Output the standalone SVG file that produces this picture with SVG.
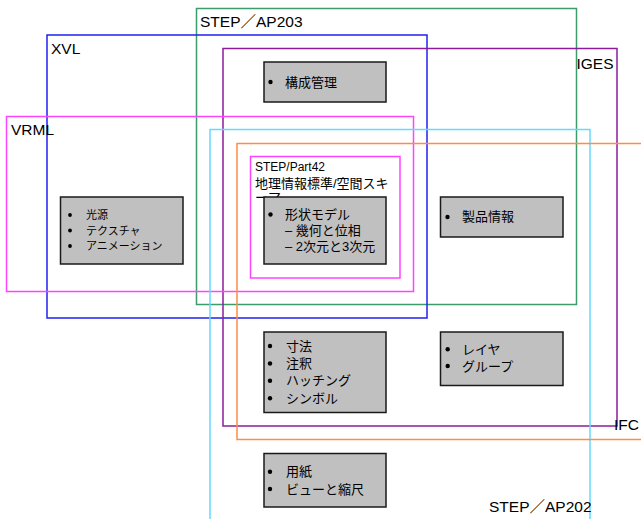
<svg xmlns="http://www.w3.org/2000/svg" width="641" height="519" viewBox="0 0 641 519">
<style>
.frame{fill:none;stroke-width:1.5}
.lbl{font-family:"Liberation Sans","Noto Sans CJK JP",sans-serif;font-size:15.5px;fill:#000}
.box{fill:#c0c0c0;stroke:#1a1a1a;stroke-width:1.5}
.t{font-family:"Liberation Sans","Noto Sans CJK JP",sans-serif;font-size:13px;fill:#000}
.ts{font-family:"Liberation Sans","Noto Sans CJK JP",sans-serif;font-size:11px;fill:#000}
.p42{font-family:"Liberation Sans","Noto Sans CJK JP",sans-serif;fill:#000}
.b{fill:#000}
</style>
<rect width="641" height="519" fill="#fff"/>
<g id="connectors"/>
<g id="step-ap203">
<rect class="frame" x="196.5" y="8.5" width="380" height="296" stroke="#3c9c6c"/>
<text class="lbl" x="200" y="26.5">STEP／AP203</text>
</g>
<g id="xvl">
<rect class="frame" x="47" y="35" width="380" height="283" stroke="#2020f0"/>
<text class="lbl" x="51" y="53.5">XVL</text>
</g>
<g id="iges">
<rect class="frame" x="223" y="48.5" width="394" height="377.5" stroke="#8c1c9c"/>
<text class="lbl" x="576.5" y="68.5">IGES</text>
</g>
<g id="vrml">
<rect class="frame" x="6.5" y="116.5" width="407" height="175" stroke="#ff44ff"/>
<text class="lbl" x="11" y="135">VRML</text>
</g>
<g id="step-ap202">
<rect class="frame" x="210" y="129.5" width="380" height="400" stroke="#66d9ff"/>
<text class="lbl" x="489" y="511.5">STEP／AP202</text>
</g>
<g id="ifc">
<rect class="frame" x="237" y="143.5" width="420" height="296" stroke="#ff8c46"/>
<text class="lbl" x="614" y="429.5">IFC</text>
</g>
<g id="step-part42">
<rect class="frame" x="250.5" y="156.5" width="149.5" height="121.5" stroke="#ff44ff"/>
<text class="p42" x="255" y="171" font-size="12">STEP/Part42</text>
<text class="p42" x="255" y="188" font-size="13">地理情報標準/空間スキ</text>
<text class="p42" x="255" y="202" font-size="13">ーマ</text>
</g>
<g id="config-mgmt">
<rect class="box" x="264" y="62" width="122" height="40"/>
<circle class="b" cx="270.5" cy="82" r="2.2"/>
<text class="t" x="285" y="86.5">構成管理</text>
</g>
<g id="vrml-items">
<rect class="box" x="60.5" y="197" width="122.5" height="67"/>
<circle class="b" cx="70" cy="215" r="1.9"/><text class="ts" x="86" y="219">光源</text>
<circle class="b" cx="70" cy="230.5" r="1.9"/><text class="ts" x="86" y="234.5">テクスチャ</text>
<circle class="b" cx="70" cy="246" r="1.9"/><text class="ts" x="86" y="250">アニメーション</text>
</g>
<g id="shape-model">
<rect class="box" x="264" y="197" width="122" height="67"/>
<circle class="b" cx="270.5" cy="214.5" r="2.2"/><text class="t" x="285" y="218.5">形状モデル</text>
<text class="t" x="285" y="234.5">– 幾何と位相</text>
<text class="t" x="285" y="250.5">– 2次元と3次元</text>
</g>
<g id="product-info">
<rect class="box" x="440.5" y="197" width="122.5" height="40"/>
<circle class="b" cx="447.5" cy="217" r="2.2"/><text class="t" x="462" y="221">製品情報</text>
</g>
<g id="drafting">
<rect class="box" x="264" y="332" width="122" height="80.5"/>
<circle class="b" cx="270" cy="346" r="2.2"/><text class="t" x="286" y="350.5">寸法</text>
<circle class="b" cx="270" cy="363.5" r="2.2"/><text class="t" x="286" y="368">注釈</text>
<circle class="b" cx="270" cy="380.8" r="2.2"/><text class="t" x="286" y="385">ハッチング</text>
<circle class="b" cx="270" cy="398.3" r="2.2"/><text class="t" x="286" y="402.5">シンボル</text>
</g>
<g id="layers">
<rect class="box" x="440.5" y="332" width="122.5" height="53.5"/>
<circle class="b" cx="447.7" cy="349.3" r="2.2"/><text class="t" x="462" y="353.5">レイヤ</text>
<circle class="b" cx="447.7" cy="366" r="2.2"/><text class="t" x="462" y="370.5">グループ</text>
</g>
<g id="sheets">
<rect class="box" x="264" y="453.5" width="122" height="53.5"/>
<circle class="b" cx="270" cy="471.7" r="2.2"/><text class="t" x="286" y="476">用紙</text>
<circle class="b" cx="270" cy="489" r="2.2"/><text class="t" x="286" y="493.5">ビューと縮尺</text>
</g>
</svg>
